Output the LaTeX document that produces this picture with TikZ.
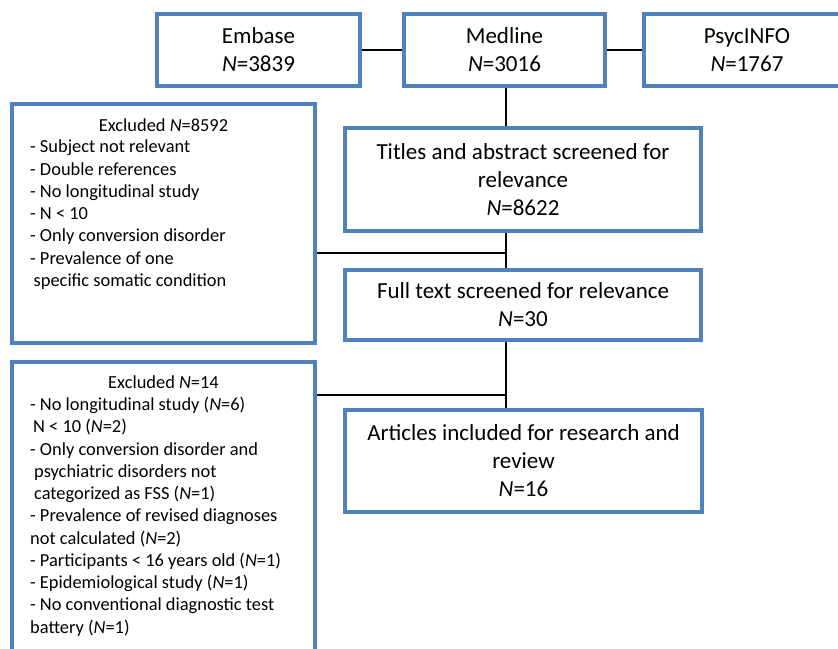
\documentclass[tikz,border=0pt]{standalone}
\usepackage{fontspec}
\setmainfont{Carlito}
\definecolor{boxblue}{HTML}{4F81BD}
\begin{document}
\begin{tikzpicture}[x=1pt,y=-1pt,
  box/.style={draw=boxblue, line width=4pt, align=center, inner sep=0pt,
    font=\fontsize{23}{28}\selectfont},
  listtext/.style={align=left, inner sep=0pt, font=\fontsize{18.4}{22.25}\selectfont},
  headtext/.style={inner sep=0pt, font=\fontsize{18.4}{22.25}\selectfont},
  link/.style={draw=black, line width=1.3pt}]
\useasboundingbox (0,0) rectangle (838,648);
\clip (0,0) rectangle (838,648);

% top databases
\node[box, minimum width=203pt, minimum height=72pt] (embase) at (258.5,50) {Embase\\\textit{N}=3839};
\node[box, minimum width=201pt, minimum height=72pt] (medline) at (504.5,50) {Medline\\\textit{N}=3016};
\node[box, minimum width=206pt, minimum height=72pt] (psyc) at (747,50) {PsycINFO\\\textit{N}=1767};

% main flow
\node[box, minimum width=356pt, minimum height=103pt] (titles) at (523,179.5) {Titles and abstract screened for\\relevance\\\textit{N}=8622};
\node[box, minimum width=356pt, minimum height=70pt] (full) at (523,305) {Full text screened for relevance\\\textit{N}=30};
\node[box, minimum width=357pt, minimum height=102pt] (articles) at (523.5,461) {Articles included for research and\\review\\\textit{N}=16};

% excluded boxes
\node[box, minimum width=303pt, minimum height=239pt] (excl1) at (163.5,223.5) {};
\node[box, minimum width=303pt, minimum height=300pt] (excl2) at (163.5,512) {};

\node[headtext, anchor=base] (h1) at (163.5,131) {Excluded \textit{N}=8592};
\node[listtext, anchor=north west] (l1) at (30,140) {%
- Subject not relevant\\
- Double references\\
- No longitudinal study\\
- N < 10\\
- Only conversion disorder\\
- Prevalence of one\\
\hspace{3.5pt}specific somatic condition};

\node[headtext, anchor=base] (h2) at (163.5,388) {Excluded \textit{N}=14};
\node[listtext, anchor=north west] (l2) at (30,397) {%
- No longitudinal study (\textit{N}=6)\\
\hspace{3pt}N < 10 (\textit{N}=2)\\
- Only conversion disorder and\\
\hspace{4pt}psychiatric disorders not\\
\hspace{4pt}categorized as FSS (\textit{N}=1)\\
- Prevalence of revised diagnoses\\
not calculated (\textit{N}=2)\\
- Participants < 16 years old (\textit{N}=1)\\
- Epidemiological study (\textit{N}=1)\\
- No conventional diagnostic test\\
battery (\textit{N}=1)};

% connectors
\coordinate (t) at (506,0);
\coordinate (j1) at (506,253);
\coordinate (j2) at (506,395);
\draw[link] (embase.east) -- (medline.west);
\draw[link] (medline.east) -- (psyc.west);
\draw[link] (medline.south -| t) -- (titles.north -| t);
\draw[link] (titles.south -| t) -- (full.north -| t);
\draw[link] (full.south -| t) -- (articles.north -| t);
\draw[link] (excl1.east |- j1) -- (j1);
\draw[link] (excl2.east |- j2) -- (j2);
\end{tikzpicture}
\end{document}
